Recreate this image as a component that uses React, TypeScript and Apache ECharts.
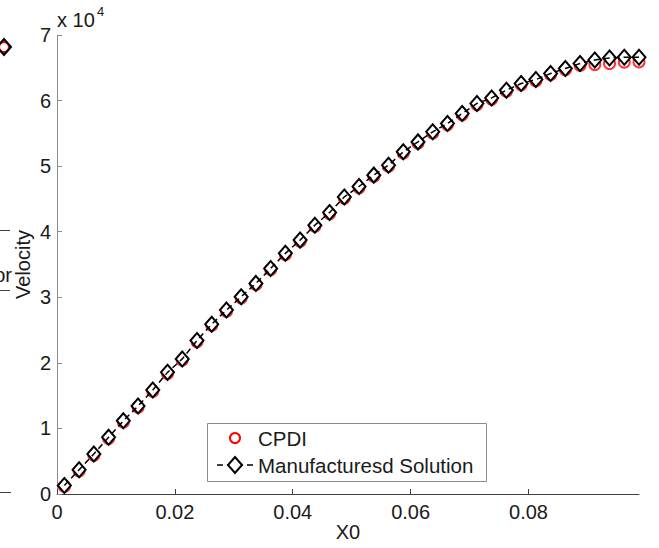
import React, { useEffect, useRef } from "react";
import * as echarts from "echarts";

const FONT = "'Liberation Sans', Arial, Helvetica, sans-serif";

const xPositions = [
  0.00125, 0.00375, 0.00625, 0.00875, 0.01125, 0.01375, 0.01625, 0.01875, 0.02125, 0.02375,
  0.02625, 0.02875, 0.03125, 0.03375, 0.03625, 0.03875, 0.04125, 0.04375, 0.04625, 0.04875,
  0.05125, 0.05375, 0.05625, 0.05875, 0.06125, 0.06375, 0.06625, 0.06875, 0.07125, 0.07375,
  0.07625, 0.07875, 0.08125, 0.08375, 0.08625, 0.08875, 0.09125, 0.09375, 0.09625, 0.09875,
];

const manufactured = [
  1300, 3700, 6100, 8640, 11170, 13420, 15850, 18550, 20600, 23400,
  25900, 28050, 30080, 32120, 34400, 36700, 38720, 41000, 42940, 45300,
  46900, 48630, 50150, 52180, 53700, 55230, 56500, 58030, 59560, 60400,
  61590, 62600, 63200, 64130, 64890, 65650, 66200, 66500, 66600, 66600,
];

const cpdi = [
  1150, 3500, 5900, 8450, 10950, 13200, 15650, 18350, 20400, 23200,
  25700, 27850, 29880, 31920, 34200, 36500, 38520, 40800, 42740, 45100,
  46700, 48430, 49950, 51980, 53500, 55030, 56300, 57830, 59360, 60200,
  61400, 62400, 63000, 63950, 64700, 65350, 65500, 65650, 65850, 65900,
];

const xTicks = [0, 0.02, 0.04, 0.06, 0.08];
const seriesNames = ["CPDI", "Manufacturesd Solution"];

export default function App() {
  const ref = useRef<HTMLDivElement>(null);
  useEffect(() => {
    if (!ref.current) return;
    const chart = echarts.init(ref.current, null, { renderer: "svg" });
    const manuData = xPositions.map((x, i) => [x, manufactured[i]]);
    const cpdiData = xPositions.map((x, i) => [x, cpdi[i]]);
    chart.setOption({
      animation: false,
      backgroundColor: "#ffffff",
      grid: { left: 57, right: 20, top: 35, bottom: 54, containLabel: false },
      xAxis: {
        type: "value",
        min: 0,
        max: 0.09875,
        name: "X0",
        nameLocation: "middle",
        nameGap: 28,
        nameMoveOverlap: false,
        nameTextStyle: { fontSize: 20, color: "#1a1a1a", fontFamily: FONT },
        axisLine: { show: true, onZero: false, lineStyle: { color: "#404040", width: 1 } },
        axisTick: { show: true, inside: true, length: 5, customValues: xTicks, lineStyle: { color: "#404040" } },
        axisLabel: {
          customValues: xTicks,
          fontSize: 20,
          color: "#1a1a1a",
          fontFamily: FONT,
          margin: 8,
          formatter: (v: number) => (v === 0 ? "0" : v.toFixed(2)),
        },
        splitLine: { show: false },
      },
      yAxis: {
        type: "value",
        min: 0,
        max: 70000,
        interval: 10000,
        name: "Velocity",
        nameLocation: "middle",
        nameRotate: 90,
        nameGap: 24,
        nameMoveOverlap: false,
        nameTextStyle: { fontSize: 20, color: "#1a1a1a", fontFamily: FONT },
        axisLine: { show: true, onZero: false, lineStyle: { color: "#8c8c8c", width: 1 } },
        axisTick: { show: true, inside: true, length: 5, lineStyle: { color: "#8c8c8c" } },
        axisLabel: {
          fontSize: 20,
          color: "#1a1a1a",
          fontFamily: FONT,
          margin: 6,
          formatter: (v: number) => String(Math.round(v / 10000)),
        },
        splitLine: { show: false },
      },
      series: [
        {
          name: seriesNames[0],
          type: "scatter",
          data: cpdiData,
          symbol: "circle",
          symbolSize: 11,
          itemStyle: { color: "transparent", borderColor: "#ff0000", borderWidth: 2 },
          z: 2,
        },
        {
          name: seriesNames[1],
          type: "line",
          data: manuData,
          symbol: "diamond",
          symbolSize: [13, 15],
          showSymbol: true,
          lineStyle: { width: 0, opacity: 0 },
          itemStyle: { color: "#ffffff", borderColor: "#000000", borderWidth: 2 },
          z: 3,
        },
        {
          name: seriesNames[1] + " line",
          type: "line",
          data: manuData,
          symbol: "none",
          lineStyle: { color: "#000000", width: 1.5, type: [6, 4] },
          z: 4,
        },
      ],
      graphic: [
        // fragments of the neighbouring subplot at the left edge
        { type: "line", shape: { x1: 0, y1: 230.5, x2: 10, y2: 230.5 }, style: { stroke: "#404040", lineWidth: 1 } },
        { type: "line", shape: { x1: 0, y1: 290.5, x2: 10, y2: 290.5 }, style: { stroke: "#404040", lineWidth: 1 } },
        { type: "line", shape: { x1: 0, y1: 492.5, x2: 11, y2: 492.5 }, style: { stroke: "#404040", lineWidth: 1 } },
        { type: "text", x: 12, y: 275, style: { text: "or", font: `20px ${FONT}`, fill: "#1a1a1a", align: "right", verticalAlign: "middle" } },
        { type: "circle", shape: { cx: 4, cy: 47, r: 5 }, style: { fill: "none", stroke: "#ff0000", lineWidth: 2 } },
        { type: "polygon", shape: { points: [[4, 39], [11, 47], [4, 55], [-3, 47]] }, style: { fill: "none", stroke: "#000000", lineWidth: 2 } },
        // multiplier label
        { type: "text", x: 57, y: 20, style: { text: "x 10", font: `20px ${FONT}`, fill: "#1a1a1a", align: "left", verticalAlign: "middle" } },
        { type: "text", x: 97, y: 11, style: { text: "4", font: `13px ${FONT}`, fill: "#1a1a1a", align: "left", verticalAlign: "middle" } },
        // legend
        { type: "rect", shape: { x: 207.5, y: 423.5, width: 279, height: 58 }, style: { fill: "#ffffff", stroke: "#8c8c8c", lineWidth: 1 }, z: 10 },
        { type: "circle", shape: { cx: 235, cy: 438, r: 5 }, style: { fill: "none", stroke: "#ff0000", lineWidth: 2 }, z: 11 },
        { type: "line", shape: { x1: 217, y1: 465, x2: 255, y2: 465 }, style: { stroke: "#000000", lineWidth: 1.5, lineDash: [6, 4] }, z: 11 },
        { type: "polygon", shape: { points: [[235, 457], [242, 465], [235, 473], [228, 465]] }, style: { fill: "#ffffff", stroke: "#000000", lineWidth: 2 }, z: 12 },
        { type: "text", x: 258, y: 438, style: { text: seriesNames[0], font: `20.5px ${FONT}`, fill: "#1a1a1a", align: "left", verticalAlign: "middle" }, z: 11 },
        { type: "text", x: 258, y: 465, style: { text: seriesNames[1], font: `20.5px ${FONT}`, fill: "#1a1a1a", align: "left", verticalAlign: "middle" }, z: 11 },
      ],
    });
    return () => chart.dispose();
  }, []);
  return (
    <div
      ref={ref}
      style={{ position: "fixed", left: 0, top: 0, width: 659, height: 548, background: "#ffffff" }}
    />
  );
}
